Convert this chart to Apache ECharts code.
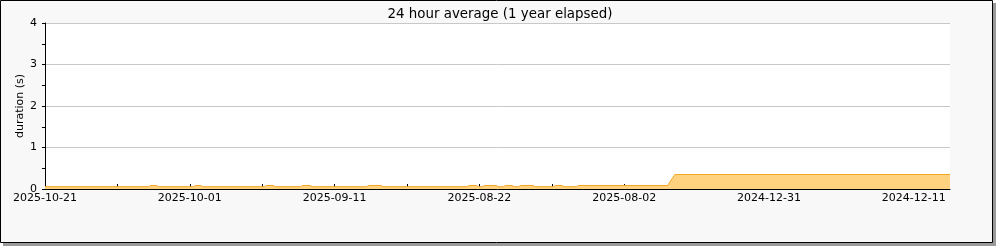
<!DOCTYPE html>
<html>
<head>
<meta charset="utf-8">
<script src="https://cdn.jsdelivr.net/npm/echarts@6/dist/echarts.min.js"></script>
<style>
html,body{margin:0;padding:0;background:#fff;}
#chart{width:1000px;height:250px;}
</style>
</head>
<body>
<div id="chart"></div>
<script>
// Day index (0 = 2025-10-21 at the left edge, increasing to the right / back in time)
const dayIndex = [0, 14.3, 14.6, 15.4, 15.7, 20.5, 20.8, 21.5, 21.8, 30.3, 30.6, 31.5, 31.8,
  35.3, 35.6, 36.6, 36.9, 44.4, 44.7, 46.4, 46.7, 58.3, 58.6, 59.6, 59.9, 60.4, 60.7, 62.3, 62.6,
  63.3, 63.6, 64.5, 64.8, 65.4, 65.7, 67.4, 67.7, 70.2, 70.5, 71.4, 71.7, 73.4, 73.7, 86.0, 87.0, 125];
// 24 hour average duration (s)
const avgDuration = [0.055, 0.055, 0.085, 0.085, 0.055, 0.055, 0.085, 0.085, 0.055, 0.055, 0.085, 0.085, 0.055,
  0.055, 0.085, 0.085, 0.055, 0.055, 0.085, 0.085, 0.055, 0.055, 0.085, 0.085, 0.055, 0.055, 0.085, 0.085, 0.055,
  0.055, 0.085, 0.085, 0.055, 0.055, 0.085, 0.085, 0.055, 0.055, 0.085, 0.085, 0.055, 0.055, 0.085, 0.085, 0.35, 0.35];
// x tick positions (day index) and their labels
const tickPositions = [0, 10, 20, 30, 40, 50, 60, 70, 80, 90, 100, 110, 120];
const labelPositions = [0, 20, 40, 60, 80, 100, 120];
const tickLabels = ['2025-10-21', '2025-10-01', '2025-09-11', '2025-08-22', '2025-08-02', '2024-12-31', '2024-12-11'];
const yTicks = [0, 1, 2, 3, 4];

const points = dayIndex.map((d, i) => [d, avgDuration[i]]);
const FONT = 'DejaVu Sans';

const chart = echarts.init(document.getElementById('chart'), null, {renderer: 'canvas'});
chart.setOption({
  animation: false,
  backgroundColor: '#fff',
  textStyle: {fontFamily: FONT},
  graphic: [
    {type: 'rect', z: -20, shape: {x: 3, y: 3, width: 993, height: 243}, style: {fill: '#9a9a9a'}},
    {type: 'rect', z: -10, shape: {x: 0.5, y: 0.5, width: 992, height: 242}, style: {fill: '#f8f8f8', stroke: '#000', lineWidth: 1}}
  ],
  title: {
    text: '24 hour average (1 year elapsed)',
    left: 'center', top: 3,
    textStyle: {fontFamily: FONT, fontSize: 13.4, fontWeight: 'normal', color: '#000'}
  },
  grid: {left: 45, top: 23, width: 905, height: 166, show: true, backgroundColor: '#fff', borderWidth: 0, containLabel: false},
  xAxis: {
    type: 'value', min: 0, max: 125,
    axisLine: {show: true, lineStyle: {color: '#000', width: 1}},
    axisTick: {show: true, inside: true, length: 5, customValues: tickPositions, lineStyle: {color: '#000'}},
    axisLabel: {
      customValues: labelPositions,
      formatter: v => tickLabels[labelPositions.indexOf(v)] || '',
      color: '#000', fontFamily: FONT, fontSize: 11, margin: 4
    },
    splitLine: {show: false}
  },
  yAxis: {
    type: 'value', min: yTicks[0], max: yTicks[yTicks.length - 1], interval: 1,
    name: 'duration (s)', nameLocation: 'middle', nameGap: 19, nameRotate: 90,
    nameMoveOverlap: false,
    nameTextStyle: {fontFamily: FONT, fontSize: 11, color: '#000'},
    axisLine: {show: true, lineStyle: {color: '#000', width: 1}},
    axisTick: {show: true, inside: false, length: 3, lineStyle: {color: '#000'}},
    minorTick: {show: true, splitNumber: 2, length: 3, lineStyle: {color: '#000'}},
    axisLabel: {color: '#000', fontFamily: FONT, fontSize: 11, margin: 8},
    splitLine: {show: true, lineStyle: {color: '#c8c8c8', width: 1}}
  },
  series: [{
    type: 'line',
    data: points,
    showSymbol: false,
    symbol: 'none',
    lineStyle: {color: '#f3a425', width: 1},
    areaStyle: {color: '#ffd27f', opacity: 1},
    z: 1
  }]
});
</script>
</body>
</html>
